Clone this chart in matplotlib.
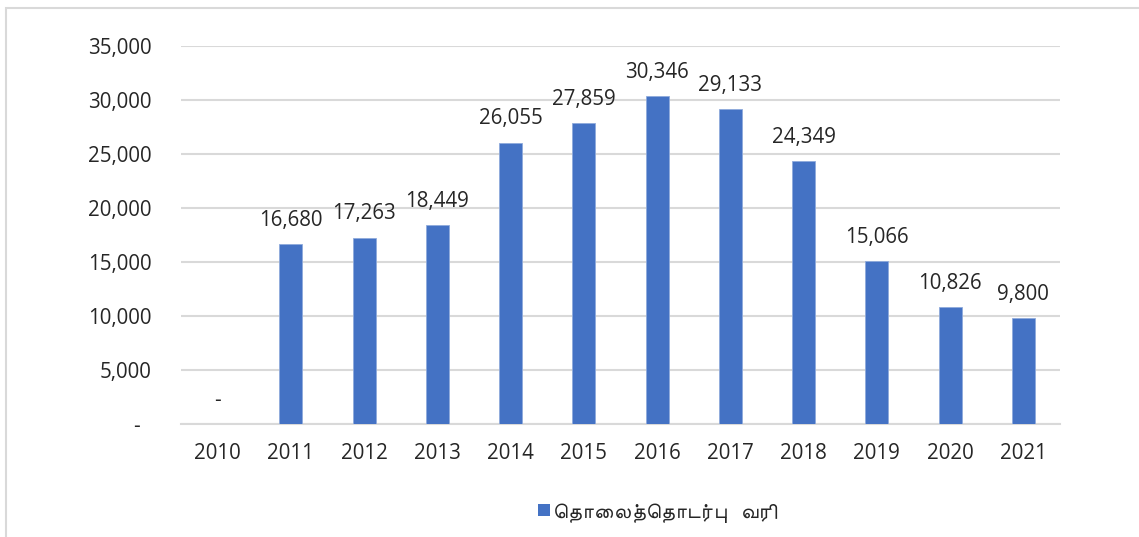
import matplotlib
matplotlib.use("Agg")
import matplotlib.pyplot as plt
from matplotlib import font_manager
from matplotlib.patches import Rectangle
from matplotlib.textpath import TextPath
from matplotlib.ticker import FuncFormatter, MultipleLocator

years = ["2010", "2011", "2012", "2013", "2014", "2015",
         "2016", "2017", "2018", "2019", "2020", "2021"]
values = [0, 16680, 17263, 18449, 26055, 27859,
          30346, 29133, 24349, 15066, 10826, 9800]
series_name = "தொலைத்தொடர்பு  வரி"

BAR_COLOR = "#4472C4"
GRID_COLOR = "#D9D9D9"
TEXT_COLOR = "#262626"
BASE_FONT = "Open Sans"
TAMIL_FONTS = ["FreeSans", "Hind Madurai", "Noto Sans Tamil", "Lohit Tamil", "Mukta Malar"]
W_PX, H_PX, DPI = 1139, 537, 100
PT2PX = DPI / 72.0


def find_tamil_font():
    """Return the path of a regular-weight installed font with Tamil glyphs."""
    by_name = {}
    for entry in font_manager.fontManager.ttflist:
        if entry.style == "normal" and entry.weight == 400:
            by_name.setdefault(entry.name, entry.fname)
    for name in TAMIL_FONTS:
        if name in by_name:
            return by_name[name]
    return None


def tamil_visual_order(text):
    """Reorder pre-base vowel signs so the string renders without a shaper."""
    split = {"\u0BCA": "\u0BC6\u0BBE", "\u0BCB": "\u0BC7\u0BBE", "\u0BCC": "\u0BC6\u0BD7"}
    prebase = {"\u0BC6", "\u0BC7", "\u0BC8"}
    chars = []
    for ch in text:
        chars.extend(split.get(ch, ch))
    out = []
    for ch in chars:
        if ch in prebase and out:
            out.insert(len(out) - 1, ch)
        else:
            out.append(ch)
    return "".join(out)


def layout_tamil(text, prop, size):
    """Place glyphs one by one by their ink extents; returns (char, origin_px) and end."""
    glyphs = []
    pen = 0.0
    prev = None
    em = size * PT2PX
    gap = 0.035 * em
    for ch in tamil_visual_order(text):
        if ch == " ":
            pen += 0.3 * em
            prev = None
            continue
        verts = TextPath((0, 0), ch, size=size, prop=prop).vertices
        xmin, xmax = verts[:, 0].min() * PT2PX, verts[:, 0].max() * PT2PX
        w = xmax - xmin
        if ch == "\u0BCD" and prev is not None:
            left = (prev[0] + prev[1]) / 2 - w / 2
            glyphs.append((ch, left - xmin))
            continue
        if ch in ("\u0BC1", "\u0BBF") and prev is not None:
            left = pen - 0.04 * em
        else:
            left = pen + (gap if glyphs else 0)
        glyphs.append((ch, left - xmin))
        prev = (left, left + w)
        pen = left + w
    return glyphs, pen


plt.rcParams["font.family"] = [BASE_FONT, "DejaVu Sans"]

fig = plt.figure(figsize=(W_PX / DPI, H_PX / DPI), dpi=DPI)
ax = fig.add_axes([181 / W_PX, 1 - 424 / H_PX, (1060 - 181) / W_PX, (424 - 46) / H_PX])

x = list(range(len(years)))
bars = ax.bar(x, values, width=0.315, color=BAR_COLOR,
              edgecolor="#8FAADC", linewidth=0.6, zorder=3)

ax.set_xlim(-0.5, len(years) - 0.5)
ax.set_ylim(0, 35000)
ax.yaxis.set_major_locator(MultipleLocator(5000))
ax.yaxis.set_major_formatter(FuncFormatter(lambda v, _: "-  " if v == 0 else f"{v:,.0f}"))
ax.set_xticks(x)
ax.set_xticklabels(years)

ax.grid(axis="y", color=GRID_COLOR, linewidth=1.5, zorder=0)
for side in ("top", "right", "left"):
    ax.spines[side].set_visible(False)
ax.spines["bottom"].set_color(GRID_COLOR)
ax.spines["bottom"].set_linewidth(1.5)
ax.tick_params(axis="both", length=0, labelsize=14.8, colors=TEXT_COLOR)
ax.tick_params(axis="y", pad=21)
ax.tick_params(axis="x", pad=14)

for rect, val in zip(bars, values):
    label = "-" if val == 0 else f"{val:,.0f}"
    ax.annotate(label, (rect.get_x() + rect.get_width() / 2, val),
                xytext=(0, 17), textcoords="offset points",
                ha="center", va="center", fontsize=14.8, color=TEXT_COLOR)

# outer chart frame
fig.patches.append(Rectangle((5.5 / W_PX, -0.05), 1.2, 1 - 8 / H_PX + 0.05,
                             transform=fig.transFigure, fill=False,
                             edgecolor="#D9D9D9", linewidth=1.5, zorder=0))

# legend: colour key and series name
key_left, key_top, key_size = 538, 504, 12
fig.patches.append(Rectangle((key_left / W_PX, 1 - (key_top + key_size) / H_PX),
                             key_size / W_PX, key_size / H_PX,
                             transform=fig.transFigure, facecolor=BAR_COLOR,
                             edgecolor="none"))
text_left, baseline, text_width = 553, 518, 224

tamil_path = find_tamil_font()
if tamil_path:
    size = 15.0
    prop = font_manager.FontProperties(fname=tamil_path, size=size)
    _, end = layout_tamil(series_name, prop, size)
    size *= text_width / end
    prop = font_manager.FontProperties(fname=tamil_path, size=size)
    glyphs, _ = layout_tamil(series_name, prop, size)
    for ch, origin in glyphs:
        fig.text((text_left + origin) / W_PX, 1 - baseline / H_PX, ch,
                 fontproperties=prop, ha="left", va="baseline", color=TEXT_COLOR)
else:
    fig.text(text_left / W_PX, 1 - baseline / H_PX, series_name,
             fontsize=14.8, ha="left", va="baseline", color=TEXT_COLOR)

fig.savefig("out.png", dpi=DPI)
